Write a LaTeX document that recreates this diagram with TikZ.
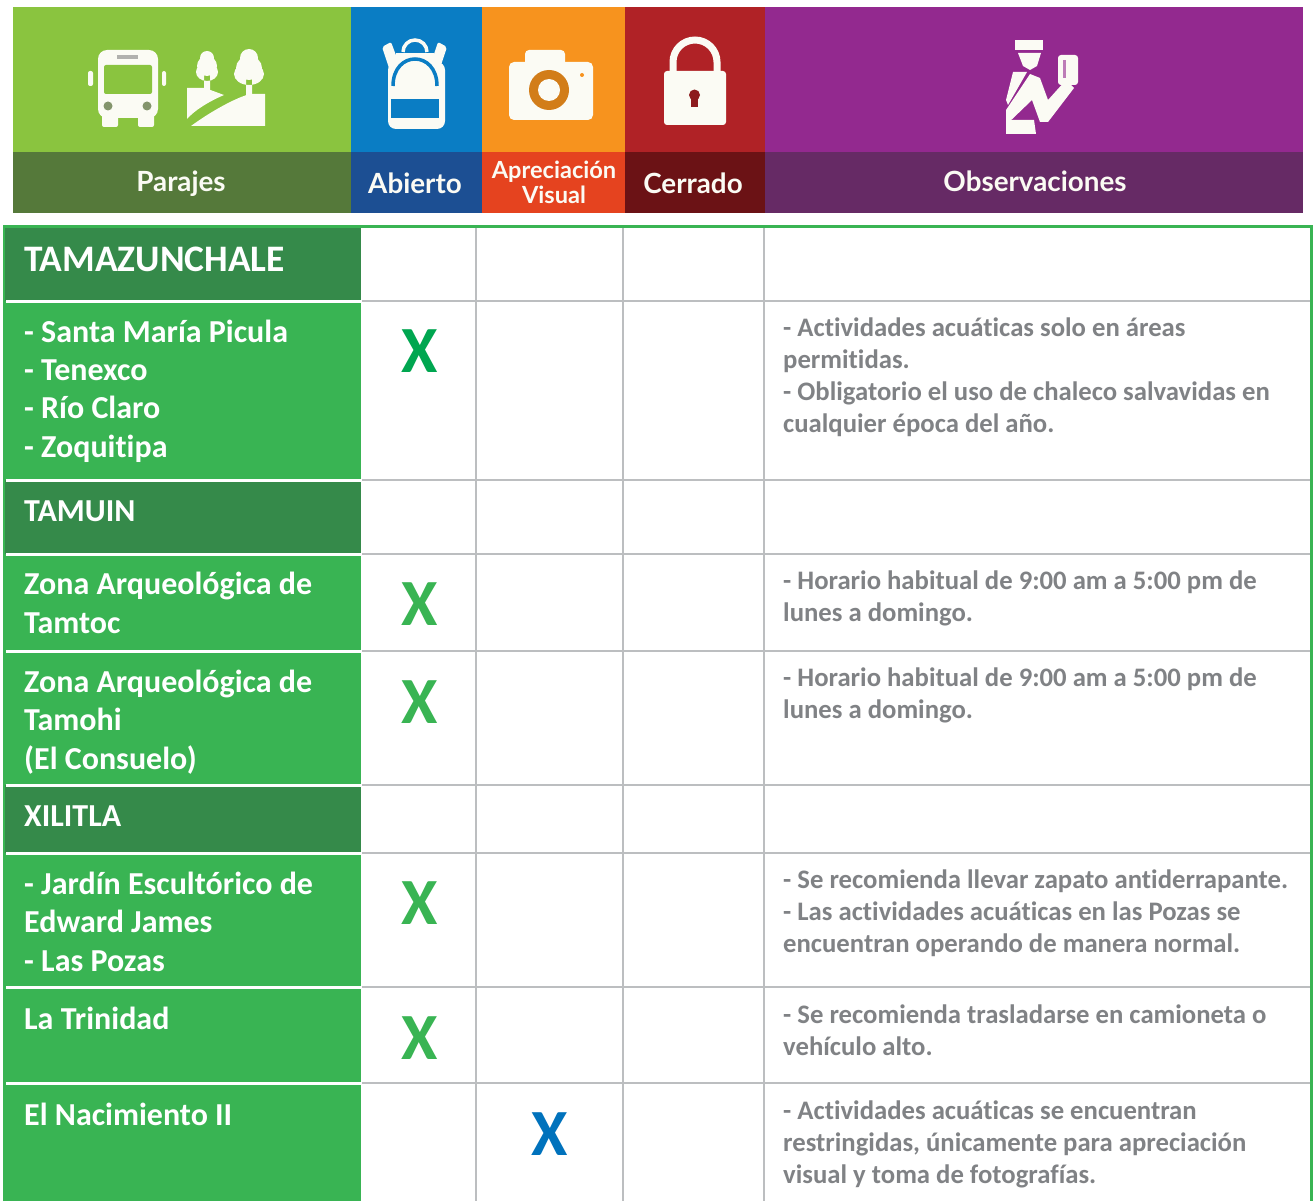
\documentclass[tikz,border=0pt]{standalone}
\usepackage{fontspec}
\setmainfont[Ligatures=NoCommon]{Carlito}
\newfontfamily\headfont{Lato}
\definecolor{grnA}{HTML}{8AC43F}\definecolor{grnB}{HTML}{55793A}
\definecolor{bluA}{HTML}{0A7DC4}\definecolor{bluB}{HTML}{1C4F93}
\definecolor{orgA}{HTML}{F7931E}\definecolor{orgB}{HTML}{E5431F}
\definecolor{redA}{HTML}{B02226}\definecolor{redB}{HTML}{6B1215}
\definecolor{purA}{HTML}{93298F}\definecolor{purB}{HTML}{662A65}
\definecolor{rowdark}{HTML}{358A4A}\definecolor{rowlight}{HTML}{39B453}
\definecolor{gridgrey}{HTML}{BCBEC0}\definecolor{notegrey}{HTML}{808285}
\definecolor{xgreen}{HTML}{00A650}\definecolor{xblue}{HTML}{0072BC}
\definecolor{iconw}{HTML}{FBFBF4}
\tikzset{
 x=1pt,y=-1pt,
 headtext/.style={text=iconw,font=\headfont\bfseries\fontsize{27.8}{27}\selectfont,align=center,inner sep=0pt},
 munitext/.style={text=white,font=\bfseries\fontsize{32}{38}\selectfont,anchor=base west,inner sep=0pt},
 placetext/.style={text=white,font=\bfseries\fontsize{32}{38.3}\selectfont,anchor=base west,align=left,inner sep=0pt},
 notetext/.style={text=notegrey,font=\bfseries\fontsize{26.7}{32}\selectfont,anchor=base west,align=left,inner sep=0pt},
 xmark/.style={font=\bfseries\fontsize{66}{66}\selectfont,inner sep=0pt},
 gridline/.style={gridgrey,line width=2.8pt},
 sepline/.style={white,line width=3pt},
 ico/.style={fill=iconw,draw=none}
}
\begin{document}
\begin{tikzpicture}
\useasboundingbox (0,0) rectangle (1313,1201);
\fill[white] (0,0) rectangle (1313,1201);
% header
\fill[grnA] (13,7) rectangle (351,152); \fill[grnB] (13,152) rectangle (351,213);
\fill[bluA] (351,7) rectangle (482,152); \fill[bluB] (351,152) rectangle (482,213);
\fill[orgA] (482,7) rectangle (625,152); \fill[orgB] (482,152) rectangle (625,213);
\fill[redA] (625,7) rectangle (765,152); \fill[redB] (625,152) rectangle (765,213);
\fill[purA] (765,7) rectangle (1303,152); \fill[purB] (765,152) rectangle (1303,213);
\node[headtext] (hp) at (181,184) {Parajes};
\node[headtext] (ha) at (415,183) {Abierto};
\node[headtext,font=\headfont\bfseries\fontsize{23.6}{25}\selectfont] (hv) at (554,182) {Apreciación\\Visual};
\node[headtext] (hc) at (693,183) {Cerrado};
\node[headtext] (ho) at (1035,181) {Observaciones};
% bus
\fill[iconw,rounded corners=9pt] (98,50) rectangle (158,118);
\fill[iconw,rounded corners=2pt] (102,112) rectangle (118,127);
\fill[iconw,rounded corners=2pt] (138,112) rectangle (154,127);
\fill[grnA,rounded corners=2pt] (104,65) rectangle (152,94);
\fill[gray!60!iconw] (117,55) rectangle (138,59);
\fill[gray!70!grnA] (108,106) circle (4.5) (147,106) circle (4.5);
\fill[iconw,rounded corners=2pt] (88,71) rectangle (93,86) (162,71) rectangle (166,86);
% landscape
\fill[ico] (187,88) -- (205,88) -- (224,95) .. controls (208,102) and (195,110) .. (187,119) -- cycle;
\fill[ico] (265,94) -- (265,126) -- (191,126) .. controls (210,112) and (235,98) .. (250,94) -- cycle;
\fill[ico] (207,58) circle (7) (207,66) ellipse (10 and 10) (207,72) ellipse (11 and 9) (204,72) rectangle (210,90);
\fill[ico] (249,58) circle (9) (249,68) ellipse (13 and 12) (249,74) ellipse (15 and 11) (246,78) rectangle (252,95);
% backpack
\fill[iconw,rounded corners=8pt] (388,62) rectangle (445,129);
\fill[iconw,rounded corners=2pt] (382,47) -- (391,42) -- (400,66) -- (391,74) -- cycle;
\fill[iconw,rounded corners=2pt] (447,47) -- (438,42) -- (430,66) -- (438,74) -- cycle;
\draw[iconw,line width=3.5pt] (403,52) arc[start angle=180,end angle=360,radius=12];
\fill[iconw] (396,53) rectangle (434,70);
\draw[bluA,line width=3.5pt] (393,86) .. controls (393,50) and (437,50) .. (437,86);
\fill[bluA] (391,99) rectangle (439,118);
% camera
\fill[iconw,rounded corners=5pt] (509,62) rectangle (593,120);
\fill[iconw,rounded corners=4pt] (525,50) rectangle (565,70);
\fill[orgA!85!black] (549,90) circle (20);
\fill[iconw] (549,90) circle (11);
\fill[orgA] (582,75) circle (2);
% lock
\draw[iconw,line width=7pt] (673,72) -- (673,62) arc[start angle=180,end angle=360,radius=22] -- (717,72);
\fill[iconw,rounded corners=3pt] (664,71) rectangle (726,125);
\fill[redA!80!black] (694.5,95) circle (5.5);
\fill[redA!80!black] (691,97) rectangle (698,107);
% officer
\fill[ico] (1015,40) -- (1043,40) -- (1043,50) -- (1015,50) -- cycle;
\fill[ico] (1018,53) -- (1041,53) -- (1037,66) -- (1030,70) -- (1023,66) -- cycle;
\fill[ico] (1013,72) -- (1027,72) -- (1008,105) -- (1006,100) -- cycle;
\fill[ico] (1006,110) -- (1030,74) -- (1040,78) -- (1048,100) -- (1066,80) -- (1074,88) -- (1048,122) -- (1040,122) -- (1032,100) -- (1006,125) -- cycle;
\fill[ico] (1006,120) -- (1034,120) -- (1036,134) -- (1006,134) -- cycle;
\fill[ico,rounded corners=3pt] (1058,55) rectangle (1078,85);
\fill[purA!60!iconw] (1063,60) rectangle (1066,78);
% table background
\fill[rowdark] (4,226) rectangle (361,301);
\fill[rowlight] (4,301) rectangle (361,480);
\fill[rowdark] (4,480) rectangle (361,554);
\fill[rowlight] (4,554) rectangle (361,785);
\fill[rowdark] (4,785) rectangle (361,853);
\fill[rowlight] (4,853) rectangle (361,1201);
% grid
\foreach \yy in {301,480,554,651,785,853,987,1083} {
  \draw[gridline] (362,\yy) -- (1312,\yy);
  \draw[sepline] (6,\yy) -- (361,\yy);
}
\foreach \xx in {476,623,764} \draw[gridline] (\xx,227) -- (\xx,1201);
\draw[rowlight,line width=2.2pt] (4,1201) -- (4,226.5) -- (1311.5,226.5) -- (1311.5,1201);
% left column
\node[munitext,font=\bfseries\fontsize{37.4}{38}\selectfont] (t1) at (24,271) {TAMAZUNCHALE};
\node[placetext] (p1) at (24,457) {- Santa María Picula\\- Tenexco\\- Río Claro\\- Zoquitipa};
\node[munitext] (t2) at (24,521) {TAMUIN};
\node[placetext] (p2) at (24,633) {Zona Arqueológica de\\Tamtoc};
\node[placetext] (p3) at (24,769) {Zona Arqueológica de\\Tamohi\\(El Consuelo)};
\node[munitext] (t3) at (24,826) {XILITLA};
\node[placetext] (p4) at (24,971) {- Jardín Escultórico de\\Edward James\\- Las Pozas};
\node[placetext] (p5) at (24,1029) {La Trinidad};
\node[placetext] (p6) at (24,1125) {El Nacimiento II};
% marks
\node[xmark,text=xgreen] (x1) at (420,351) {X};
\node[xmark,text=rowlight] (x2) at (420,604) {X};
\node[xmark,text=rowlight] (x3) at (420,702) {X};
\node[xmark,text=rowlight] (x4) at (420,903) {X};
\node[xmark,text=rowlight] (x5) at (420,1038) {X};
\node[xmark,text=xblue] (x6) at (550,1134) {X};
% notes
\node[notetext] (n1) at (783,432.5) {- Actividades acuáticas solo en áreas\\permitidas.\\- Obligatorio el uso de chaleco salvavidas en\\cualquier época del año.};
\node[notetext] (n2) at (783,621.5) {- Horario habitual de 9:00 am a 5:00 pm de\\lunes a domingo.};
\node[notetext] (n3) at (783,718.5) {- Horario habitual de 9:00 am a 5:00 pm de\\lunes a domingo.};
\node[notetext] (n4) at (783,952.5) {- Se recomienda llevar zapato antiderrapante.\\- Las actividades acuáticas en las Pozas se\\encuentran operando de manera normal.};
\node[notetext] (n5) at (783,1055.5) {- Se recomienda trasladarse en camioneta o\\vehículo alto.};
\node[notetext] (n6) at (783,1183.5) {- Actividades acuáticas se encuentran\\restringidas, únicamente para apreciación\\visual y toma de fotografías.};
\end{tikzpicture}
\end{document}
